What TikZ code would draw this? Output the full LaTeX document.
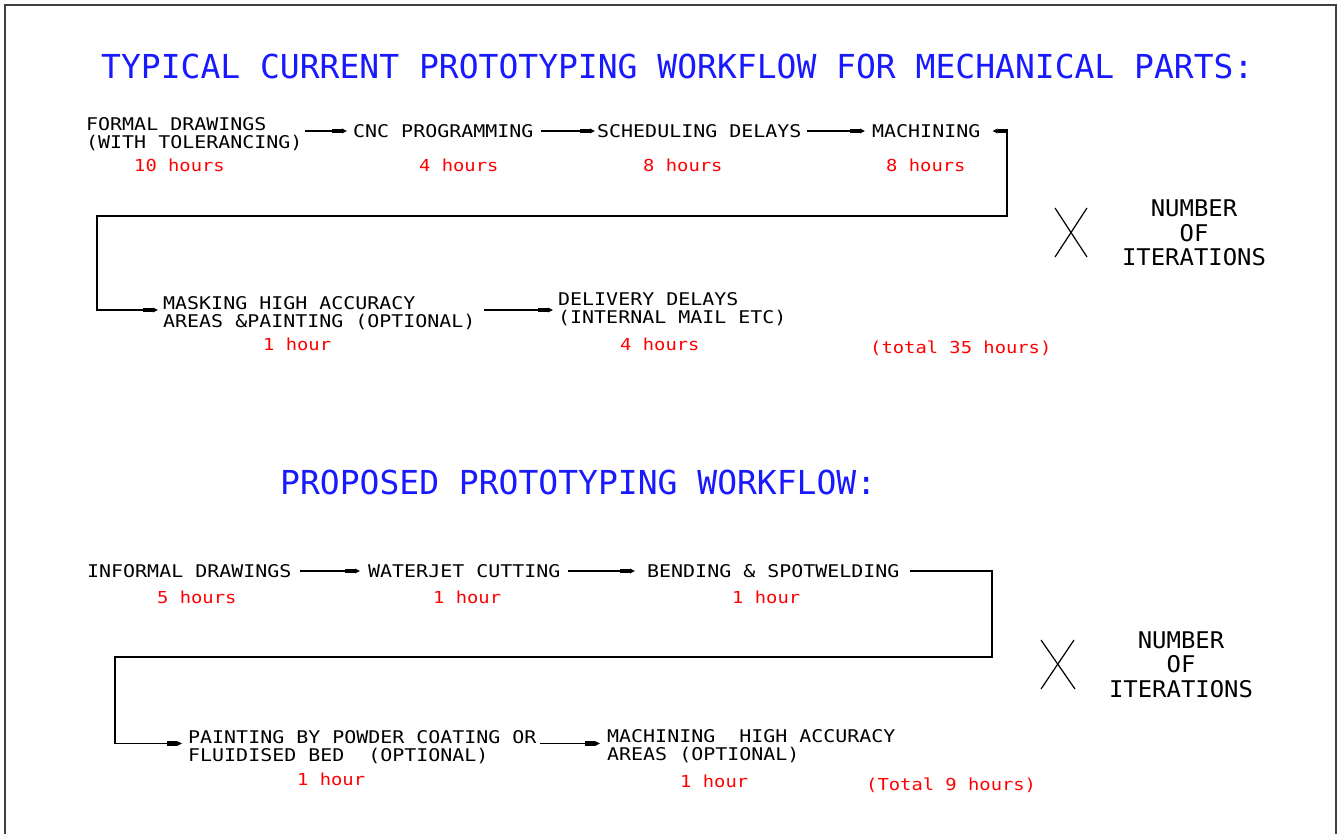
\documentclass[tikz,border=0pt]{standalone}
\usepackage{fontspec}
\usetikzlibrary{arrows.meta}

% CAD-style monospaced lettering
\newfontfamily\cadmono{DejaVu Sans Mono}
\newfontfamily\cadwide[FakeStretch=1.14]{DejaVu Sans Mono}
\newfontfamily\caditer[FakeStretch=1.04]{DejaVu Sans Mono}

\definecolor{cadblue}{RGB}{25,25,255}
\definecolor{cadred}{RGB}{255,0,0}

\tikzset{
  heading/.style={anchor=base west, inner sep=0pt, text=cadblue,
    font=\cadmono\fontsize{33}{38}\selectfont},
  onerow/.style={anchor=west, inner sep=0pt, text height=12.8pt, text depth=0pt,
    font=\cadwide\fontsize{17.5}{18}\selectfont},
  % two-line labels: the base anchor sits on the second line
  tworow/.style={anchor=base west, inner sep=0pt, align=left,
    font=\cadwide\fontsize{17.5}{18}\selectfont},
  hours/.style={anchor=base west, inner sep=0pt, text=cadred,
    font=\cadwide\fontsize{16.5}{18}\selectfont},
  iters/.style={anchor=base, inner sep=0pt, align=center,
    font=\caditer\fontsize{23}{24.5}\selectfont},
  conn/.style={draw=black, line width=1.4pt},
  cadtip/.tip={Rectangle[length=10pt,width=4.6pt]Triangle[length=5pt,width=4.6pt]},
  arrowend/.style={-cadtip},
  bothends/.style={cadtip-cadtip},
  edgeline/.style={draw=black!75, line width=1.8pt},
  xmark/.style={draw=black, line width=1.2pt},
}

\begin{document}
\begin{tikzpicture}[x=1pt, y=-1pt]
\useasboundingbox (0,0) rectangle (1339,834);

% sheet border (open at the bottom)
\draw[edgeline] (5,834) -- (5,5) -- (1336,5) -- (1336,834);

% ---------- current workflow ----------
\node[heading] (t1) at (101,78.5) {TYPICAL CURRENT PROTOTYPING WORKFLOW FOR MECHANICAL PARTS:};

\node[tworow] (formal) at (86,149) {FORMAL DRAWINGS\\(WITH TOLERANCING)};
\node[onerow] (cnc)   at (353,131) {CNC PROGRAMMING};
\node[onerow] (sched) at (597,131) {SCHEDULING DELAYS};
\node[onerow] (mach)  at (872,131) {MACHINING};

\node[hours] (h1) at (134,172) {10 hours};
\node[hours] (h2) at (419,172) {4 hours};
\node[hours] (h3) at (643,172) {8 hours};
\node[hours] (h4) at (886,172) {8 hours};

\coordinate (formalout) at ([yshift=18pt]formal.base east);
\draw[conn, arrowend, shorten <=2pt, shorten >=6pt] (formalout) -- (cnc.west |- formalout);
\draw[conn, arrowend, shorten <=7pt, shorten >=2pt] (cnc.east) -- (sched.west);
\draw[conn, arrowend, shorten <=5pt, shorten >=7pt] (sched.east) -- (mach.west);

\node[tworow] (mask)  at (163,328)   {MASKING HIGH ACCURACY\\AREAS \&PAINTING (OPTIONAL)};
\node[tworow] (deliv) at (558,323.5) {DELIVERY DELAYS\\(INTERNAL MAIL ETC)};

\coordinate (l1a) at (1007,216);
\coordinate (l1b) at (97,216);
\draw[conn, bothends, shorten <=12pt, shorten >=5pt]
  (mach.east) -| (l1a) -- (l1b) |- ([yshift=18pt]mask.base west);
\coordinate (maskout) at ([yshift=18pt]mask.base east);
\draw[conn, arrowend, shorten <=8pt, shorten >=5pt] (maskout) -- (deliv.west |- maskout);

\node[hours] (h5) at (263,351) {1 hour};
\node[hours] (h6) at (620,351) {4 hours};
\node[hours] (tot1) at (870,353) {(total 35 hours)};

\draw[xmark] (1055,208) -- (1087,257);
\draw[xmark] (1087,208) -- (1055,257);
\node[iters] (it1) at (1194,266) {NUMBER\\OF\\ITERATIONS};

% ---------- proposed workflow ----------
\node[heading] (t2) at (280,494) {PROPOSED PROTOTYPING WORKFLOW:};

\node[onerow] (informal) at (87,571)  {INFORMAL DRAWINGS};
\node[onerow] (water)    at (368,571) {WATERJET CUTTING};
\node[onerow] (bend)     at (647,571) {BENDING \& SPOTWELDING};

\draw[conn, arrowend, shorten <=8pt, shorten >=8pt] (informal.east) -- (water.west);
\draw[conn, arrowend, shorten <=7pt, shorten >=12pt] (water.east) -- (bend.west);

\node[hours] (h7) at (157,603) {5 hours};
\node[hours] (h8) at (433,603) {1 hour};
\node[hours] (h9) at (732,603) {1 hour};

\node[tworow] (paint) at (188,761.5) {PAINTING BY POWDER COATING OR\\FLUIDISED BED\ \ (OPTIONAL)};
\node[tworow] (mach2) at (607,760)   {MACHINING\ \ HIGH ACCURACY\\AREAS (OPTIONAL)};

\coordinate (l2a) at (992,657);
\coordinate (l2b) at (115,657);
\draw[conn, arrowend, shorten <=10pt, shorten >=6pt]
  (bend.east) -| (l2a) -- (l2b) |- ([yshift=18pt]paint.base west);
\coordinate (paintout) at ([yshift=18pt]paint.base east);
\draw[conn, arrowend, shorten <=3pt, shorten >=7pt] (paintout) -- (mach2.west |- paintout);

\node[hours] (h10) at (297,785) {1 hour};
\node[hours] (h11) at (680,787) {1 hour};
\node[hours] (tot2) at (866,790) {(Total 9 hours)};

\draw[xmark] (1041,640) -- (1075,689);
\draw[xmark] (1074,640) -- (1041,689);
\node[iters] (it2) at (1181,697) {NUMBER\\OF\\ITERATIONS};

\end{tikzpicture}
\end{document}
